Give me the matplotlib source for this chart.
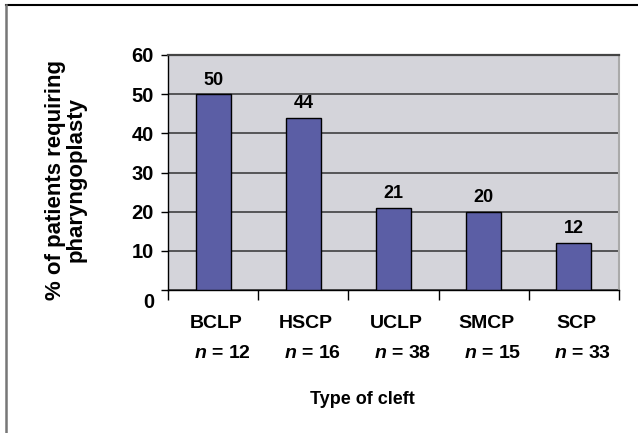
import matplotlib.pyplot as plt
from matplotlib.lines import Line2D
from matplotlib.transforms import ScaledTranslation
import numpy as np

plt.rcParams['font.family'] = ['Liberation Sans', 'DejaVu Sans']
plt.rcParams['mathtext.fontset'] = 'custom'
plt.rcParams['mathtext.it'] = 'Liberation Sans:bold:italic'
plt.rcParams['mathtext.rm'] = 'Liberation Sans:bold'

# datos del grafico
tipos = ['BCLP', 'HSCP', 'UCLP', 'SMCP', 'SCP']
n_pacientes = [12, 16, 38, 15, 33]
porcentajes = [50, 44, 21, 20, 12]
ticks_y = [0, 10, 20, 30, 40, 50, 60]

W, H = 638, 433
fig = plt.figure(figsize=(W / 100, H / 100), dpi=100)
ax = fig.add_axes([168 / W, 1 - 290 / H, (619 - 168) / W, (290 - 55) / H])

ax.set_facecolor('#D4D4DA')
x = np.arange(len(tipos))
ax.bar(x, porcentajes, width=0.39, color='#5B5EA5', edgecolor='black',
       linewidth=1.0, zorder=3)

ax.set_xlim(-0.5, len(tipos) - 0.5)
ax.set_ylim(0, 60)
ax.set_yticks(ticks_y)
ax.set_yticklabels([str(t) for t in ticks_y], fontsize=14.5, fontweight='bold')
ax.yaxis.grid(True, color='#333333', linewidth=1.1, zorder=1)
ax.tick_params(axis='y', length=5, width=1, pad=5, direction='out')

# marcas del eje x entre categorias
ax.set_xticks([])
ax.set_xticks(np.arange(-0.5, len(tipos)), minor=True)
ax.tick_params(axis='x', which='minor', length=7, width=1, direction='out')

ax.spines['top'].set_color('#444444')
ax.spines['top'].set_linewidth(1.6)
ax.spines['right'].set_color('#AAAAAA')
ax.spines['right'].set_linewidth(1.5)
ax.spines['left'].set_linewidth(1.0)
ax.spines['bottom'].set_linewidth(1.0)

# la etiqueta 0 queda mas abajo
etiqueta0 = ax.get_yticklabels()[0]
etiqueta0.set_transform(etiqueta0.get_transform() + ScaledTranslation(0, -0.11, fig.dpi_scale_trans))

# valores encima de las barras
for xi, v in zip(x, porcentajes):
    ax.annotate(str(v), (xi, v), xytext=(0, 4), textcoords='offset points',
                ha='center', va='bottom', fontsize=13, fontweight='bold')

# nombres de categoria y n
for xi, t, n in zip(x, tipos, n_pacientes):
    ax.text(xi + 0.03, -33 / 235 * 60, t, ha='center', va='center', fontsize=14,
            fontweight='bold')
    ax.text(xi + 0.1, -63 / 235 * 60, '$n$ = %d' % n, ha='center', va='center',
            fontsize=14, fontweight='bold')

ax.text(0.43, -109 / 235, 'Type of cleft', ha='center', va='center', fontsize=13,
        fontweight='bold', transform=ax.transAxes)

fig.text(66 / W, 1 - 180 / H, '% of patients requiring\npharyngoplasty', rotation=90,
         ha='center', va='center', multialignment='center', fontsize=16,
         fontweight='bold', linespacing=1.0)

# marco de la figura
fig.add_artist(Line2D([5.5 / W, 1], [1 - 4.5 / H, 1 - 4.5 / H], color='black', linewidth=1.5))
fig.add_artist(Line2D([5.5 / W, 5.5 / W], [0, 1 - 4.5 / H], color='#777777', linewidth=1.8))

fig.savefig('out.png', dpi=100)
